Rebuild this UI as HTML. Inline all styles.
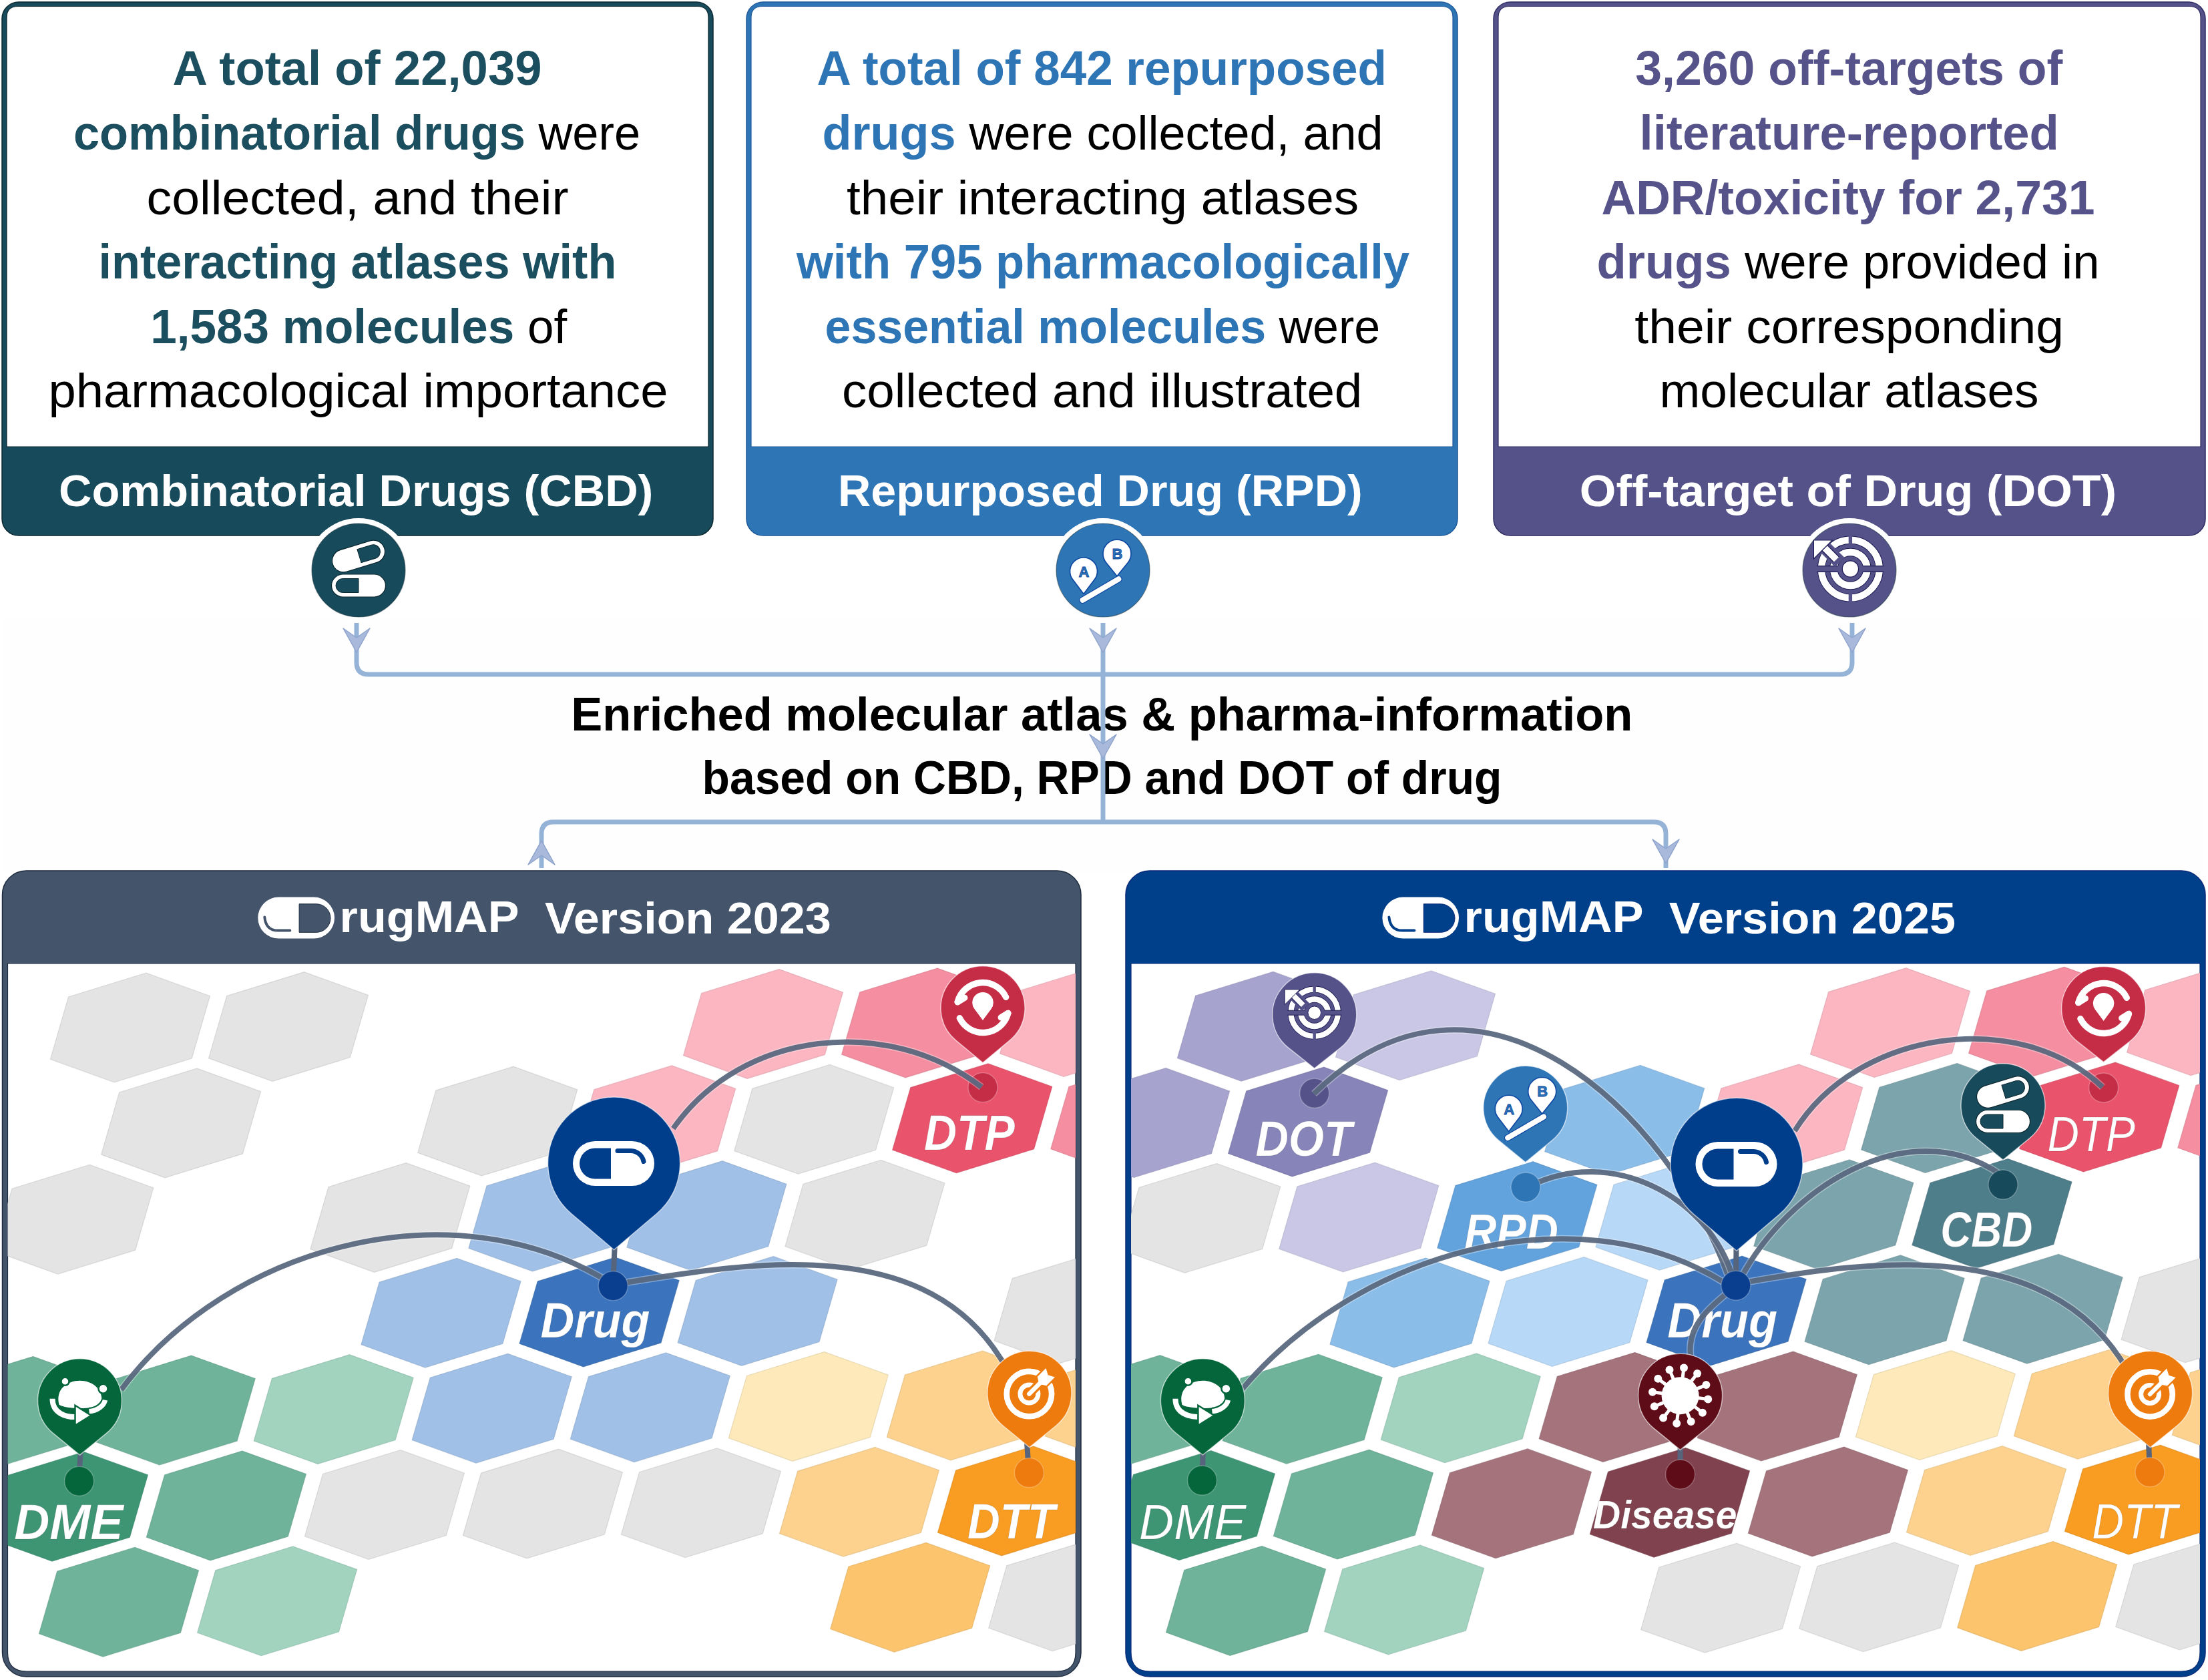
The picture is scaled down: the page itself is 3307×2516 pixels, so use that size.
<!DOCTYPE html><html><head><meta charset="utf-8"><style>html,body{margin:0;padding:0;background:#fff;overflow:hidden;}svg{display:block;}text{font-family:"Liberation Sans",sans-serif;white-space:pre;}</style></head><body>
<svg width="3307" height="2516" viewBox="0 0 3307 2516">
<rect width="3307" height="2516" fill="#ffffff"/>
<rect x="5" y="926" width="3295" height="380" fill="#fefefe"/>
<rect x="3" y="3" width="1065" height="799" rx="25" fill="#174a5b" stroke="#0b2730" stroke-width="1.5"/>
<path d="M10,669 L10,26 Q10,9.5 27,9.5 L1044,9.5 Q1061,9.5 1061,26 L1061,669 Z" fill="#fff" stroke="#0b2730" stroke-width="1.2"/>
<text x="533.2" y="758.0" font-size="67" text-anchor="middle" font-weight="bold" font-style="normal" fill="#fff" textLength="890.4" lengthAdjust="spacingAndGlyphs" >Combinatorial Drugs (CBD)</text>
<rect x="1118" y="3" width="1065" height="799" rx="25" fill="#2e75b6" stroke="#1f5a99" stroke-width="1.5"/>
<path d="M1125,669 L1125,26 Q1125,9.5 1142,9.5 L2159,9.5 Q2176,9.5 2176,26 L2176,669 Z" fill="#fff" stroke="#1f5a99" stroke-width="1.2"/>
<text x="1647.9" y="758.0" font-size="67" text-anchor="middle" font-weight="bold" font-style="normal" fill="#fff" textLength="785.8" lengthAdjust="spacingAndGlyphs" >Repurposed Drug (RPD)</text>
<rect x="2237" y="3" width="1066" height="799" rx="25" fill="#55528a" stroke="#2e2b63" stroke-width="1.5"/>
<path d="M2244,669 L2244,26 Q2244,9.5 2261,9.5 L3279,9.5 Q3296,9.5 3296,26 L3296,669 Z" fill="#fff" stroke="#2e2b63" stroke-width="1.2"/>
<text x="2768.0" y="758.0" font-size="67" text-anchor="middle" font-weight="bold" font-style="normal" fill="#fff" textLength="804.4" lengthAdjust="spacingAndGlyphs" >Off-target of Drug (DOT)</text>
<text x="535.0" y="127.4" font-size="72" text-anchor="middle" textLength="553.0" lengthAdjust="spacingAndGlyphs"><tspan fill="#1b4e5e" font-weight="bold">A total of 22,039</tspan></text>
<text x="534.5" y="224.0" font-size="72" text-anchor="middle" textLength="849.1" lengthAdjust="spacingAndGlyphs"><tspan fill="#1b4e5e" font-weight="bold">combinatorial drugs</tspan><tspan fill="#000" font-weight="normal"> were</tspan></text>
<text x="535.5" y="320.6" font-size="72" text-anchor="middle" textLength="632.0" lengthAdjust="spacingAndGlyphs"><tspan fill="#000" font-weight="normal">collected, and their</tspan></text>
<text x="535.4" y="417.2" font-size="72" text-anchor="middle" textLength="775.7" lengthAdjust="spacingAndGlyphs"><tspan fill="#1b4e5e" font-weight="bold">interacting atlases with</tspan></text>
<text x="537.2" y="513.8" font-size="72" text-anchor="middle" textLength="623.9" lengthAdjust="spacingAndGlyphs"><tspan fill="#1b4e5e" font-weight="bold">1,583 molecules</tspan><tspan fill="#000" font-weight="normal"> of</tspan></text>
<text x="536.5" y="610.4" font-size="72" text-anchor="middle" textLength="928.0" lengthAdjust="spacingAndGlyphs"><tspan fill="#000" font-weight="normal">pharmacological importance</tspan></text>
<text x="1650.2" y="127.4" font-size="72" text-anchor="middle" textLength="853.3" lengthAdjust="spacingAndGlyphs"><tspan fill="#2e75b6" font-weight="bold">A total of 842 repurposed</tspan></text>
<text x="1651.5" y="224.0" font-size="72" text-anchor="middle" textLength="840.0" lengthAdjust="spacingAndGlyphs"><tspan fill="#2e75b6" font-weight="bold">drugs</tspan><tspan fill="#000" font-weight="normal"> were collected, and</tspan></text>
<text x="1651.5" y="320.6" font-size="72" text-anchor="middle" textLength="767.1" lengthAdjust="spacingAndGlyphs"><tspan fill="#000" font-weight="normal">their interacting atlases</tspan></text>
<text x="1652.0" y="417.2" font-size="72" text-anchor="middle" textLength="918.2" lengthAdjust="spacingAndGlyphs"><tspan fill="#2e75b6" font-weight="bold">with 795 pharmacologically</tspan></text>
<text x="1651.3" y="513.8" font-size="72" text-anchor="middle" textLength="831.6" lengthAdjust="spacingAndGlyphs"><tspan fill="#2e75b6" font-weight="bold">essential molecules</tspan><tspan fill="#000" font-weight="normal"> were</tspan></text>
<text x="1650.7" y="610.4" font-size="72" text-anchor="middle" textLength="779.3" lengthAdjust="spacingAndGlyphs"><tspan fill="#000" font-weight="normal">collected and illustrated</tspan></text>
<text x="2769.3" y="127.4" font-size="72" text-anchor="middle" textLength="640.0" lengthAdjust="spacingAndGlyphs"><tspan fill="#56538b" font-weight="bold">3,260 off-targets of</tspan></text>
<text x="2769.7" y="224.0" font-size="72" text-anchor="middle" textLength="628.4" lengthAdjust="spacingAndGlyphs"><tspan fill="#56538b" font-weight="bold">literature-reported</tspan></text>
<text x="2768.0" y="320.6" font-size="72" text-anchor="middle" textLength="739.0" lengthAdjust="spacingAndGlyphs"><tspan fill="#56538b" font-weight="bold">ADR/toxicity for 2,731</tspan></text>
<text x="2768.0" y="417.2" font-size="72" text-anchor="middle" textLength="753.0" lengthAdjust="spacingAndGlyphs"><tspan fill="#56538b" font-weight="bold">drugs</tspan><tspan fill="#000" font-weight="normal"> were provided in</tspan></text>
<text x="2769.6" y="513.8" font-size="72" text-anchor="middle" textLength="642.6" lengthAdjust="spacingAndGlyphs"><tspan fill="#000" font-weight="normal">their corresponding</tspan></text>
<text x="2769.5" y="610.4" font-size="72" text-anchor="middle" textLength="568.0" lengthAdjust="spacingAndGlyphs"><tspan fill="#000" font-weight="normal">molecular atlases</tspan></text>
<circle cx="537" cy="854" r="78" fill="#fff"/>
<circle cx="537" cy="854" r="70" fill="#174a5b" stroke="#0b2730" stroke-opacity="0.5" stroke-width="1.2"/>
<g transform="translate(537,854) scale(1.0)"><g transform="translate(0,-21) rotate(-17)"><rect x="-40.5" y="-17" width="81" height="34" rx="17" fill="#fff" stroke="#0b2730" stroke-width="1.2"/><path d="M1,-10.5 L23,-10.5 A10.5,10.5 0 0 1 23,10.5 L1,10.5 Z" fill="#174a5b" stroke="#0b2730" stroke-width="1"/></g><g transform="translate(0,23)"><rect x="-40.5" y="-17" width="81" height="34" rx="17" fill="#fff" stroke="#0b2730" stroke-width="1.2"/><path d="M0,-10.5 L-23.5,-10.5 A10.5,10.5 0 0 0 -23.5,10.5 L0,10.5 Z" fill="#174a5b" stroke="#0b2730" stroke-width="1"/></g></g>
<circle cx="1652" cy="854" r="78" fill="#fff"/>
<circle cx="1652" cy="854" r="70" fill="#2e75b6" stroke="#0b2730" stroke-opacity="0.5" stroke-width="1.2"/>
<g transform="translate(1650,854) scale(1.0)"><path d="M-27.0,35.4 L-43.4,13.8 A20.5,20.5 0 1 1 -10.6,13.8 Z" fill="#fff" stroke="#0d47a1" stroke-width="1.6" stroke-linejoin="round"/><text x="-26.5" y="9.5" font-size="22" font-weight="bold" text-anchor="middle" fill="#2e75b6" stroke="#0d47a1" stroke-width="0.8">A</text><path d="M23.0,8.7 L6.6,-11.6 A21,21 0 1 1 39.4,-11.6 Z" fill="#fff" stroke="#0d47a1" stroke-width="1.6" stroke-linejoin="round"/><text x="23.5" y="-17" font-size="22" font-weight="bold" text-anchor="middle" fill="#2e75b6" stroke="#0d47a1" stroke-width="0.8">B</text><line x1="-28.5" y1="44.8" x2="25.4" y2="13.3" stroke="#0d47a1" stroke-width="10.5" stroke-linecap="round"/><line x1="-28.5" y1="44.8" x2="25.4" y2="13.3" stroke="#fff" stroke-width="8" stroke-linecap="round"/></g>
<circle cx="2770" cy="854" r="78" fill="#fff"/>
<circle cx="2770" cy="854" r="70" fill="#55528a" stroke="#0b2730" stroke-opacity="0.5" stroke-width="1.2"/>
<g transform="translate(2771.4,852) scale(1.0)"><circle r="25" fill="none" stroke="#1e1b55" stroke-width="12.6"/><circle r="25" fill="none" stroke="#fff" stroke-width="10.6"/><circle r="43.4" fill="none" stroke="#1e1b55" stroke-width="12.2"/><circle r="43.4" fill="none" stroke="#fff" stroke-width="10.2"/><rect x="-52" y="-4.3" width="104" height="8.6" fill="#55528a"/><path d="M-50,-4.3 L-18.7,-4.3 M18.7,-4.3 L50,-4.3 M-50,4.3 L-18.7,4.3 M18.7,4.3 L50,4.3" stroke="#1e1b55" stroke-width="1.2"/><rect x="-2.7" y="-52" width="5.4" height="16" fill="#55528a"/><rect x="-2.7" y="36" width="5.4" height="16" fill="#55528a"/><line x1="-16" y1="-10" x2="-47" y2="-41" stroke="#55528a" stroke-width="20"/><circle r="12.1" fill="#fff" stroke="#1e1b55" stroke-width="1.2"/><line x1="-21" y1="-14" x2="-44" y2="-37" stroke="#1e1b55" stroke-width="12.5"/><line x1="-21" y1="-14" x2="-44" y2="-37" stroke="#fff" stroke-width="10"/><path d="M-55,-43 L-27,-43 L-55,-15 Z" fill="#fff" stroke="#1e1b55" stroke-width="1.2" stroke-linejoin="miter"/></g>
<text x="1650.3" y="1093.6" font-size="71" text-anchor="middle" font-weight="bold" font-style="normal" fill="#000" textLength="1590.3" lengthAdjust="spacingAndGlyphs" >Enriched molecular atlas &amp; pharma-information</text>
<text x="1650.5" y="1189.0" font-size="71" text-anchor="middle" font-weight="bold" font-style="normal" fill="#000" textLength="1198.0" lengthAdjust="spacingAndGlyphs" >based on CBD, RPD and DOT of drug</text>
<path d="M534,933 L534,992 Q534,1010 552,1010 L2756,1010 Q2774,1010 2774,992 L2774,933" fill="none" stroke="#95b3d7" stroke-width="7"/>
<line x1="1652" y1="933" x2="1652" y2="1231" stroke="#95b3d7" stroke-width="7"/>
<path d="M811,1300 L811,1249 Q811,1231 829,1231 L2477,1231 Q2495,1231 2495,1249 L2495,1300" fill="none" stroke="#95b3d7" stroke-width="7"/>
<path d="M534,977 L514,941 L534,955 L554,941 Z" fill="#a9b9dc" stroke="#8ea4cc" stroke-width="1.5" stroke-linejoin="round"/>
<path d="M1652,977 L1632,941 L1652,955 L1672,941 Z" fill="#a9b9dc" stroke="#8ea4cc" stroke-width="1.5" stroke-linejoin="round"/>
<path d="M2774,977 L2754,941 L2774,955 L2794,941 Z" fill="#a9b9dc" stroke="#8ea4cc" stroke-width="1.5" stroke-linejoin="round"/>
<path d="M1652,1136 L1632,1100 L1652,1114 L1672,1100 Z" fill="#a9b9dc" stroke="#8ea4cc" stroke-width="1.5" stroke-linejoin="round"/>
<path d="M811,1259 L791,1295 L811,1281 L831,1295 Z" fill="#a9b9dc" stroke="#8ea4cc" stroke-width="1.5" stroke-linejoin="round"/>
<path d="M2495,1293 L2475,1257 L2495,1271 L2515,1257 Z" fill="#a9b9dc" stroke="#8ea4cc" stroke-width="1.5" stroke-linejoin="round"/>
<rect x="3.5" y="1304" width="1615.5" height="1207" rx="36" fill="#44546a" stroke="#1c2a3d" stroke-width="1.5"/>
<defs><clipPath id="clip0"><path d="M11.5,1443 L1611,1443 L1611,2475 Q1611,2503 1583,2503 L39.5,2503 Q11.5,2503 11.5,2475 Z"/></clipPath></defs>
<path d="M11.5,1443 L1611,1443 L1611,2475 Q1611,2503 1583,2503 L39.5,2503 Q11.5,2503 11.5,2475 Z" fill="#fff" stroke="#1c2a3d" stroke-width="1.2"/>
<rect x="386.3" y="1343.6" width="114.69999999999999" height="62.0" rx="31.0" fill="#fff"/>
<path d="M448.1,1353.8 L473.8,1353.8 A21.25,21.25 0 0 1 473.8,1396.3 L448.1,1396.3 Z" fill="#44546a" stroke="#1c2a3d" stroke-width="1"/>
<path d="M396.3,1373.6 Q398.3,1393.6 416.3,1393.6 L434.3,1393.6" fill="none" stroke="#44546a" stroke-width="4" stroke-linecap="round"/>
<text x="643.1" y="1396.0" font-size="66" text-anchor="middle" font-weight="bold" font-style="normal" fill="#fff" textLength="269.0" lengthAdjust="spacingAndGlyphs" >rugMAP</text>
<text x="1030.4" y="1397.5" font-size="66" text-anchor="middle" font-weight="bold" font-style="normal" fill="#fff" textLength="429.0" lengthAdjust="spacingAndGlyphs" >Version 2023</text>
<rect x="1686" y="1304" width="1617" height="1207" rx="36" fill="#003f8a" stroke="#0a2a78" stroke-width="1.5"/>
<defs><clipPath id="clip1"><path d="M1694,1443 L3295,1443 L3295,2475 Q3295,2503 3267,2503 L1722,2503 Q1694,2503 1694,2475 Z"/></clipPath></defs>
<path d="M1694,1443 L3295,1443 L3295,2475 Q3295,2503 3267,2503 L1722,2503 Q1694,2503 1694,2475 Z" fill="#fff" stroke="#0a2a78" stroke-width="1.2"/>
<rect x="2070.4" y="1343.6" width="114.59999999999991" height="62.0" rx="31.0" fill="#fff"/>
<path d="M2132.2000000000003,1353.8 L2157.8,1353.8 A21.25,21.25 0 0 1 2157.8,1396.3 L2132.2000000000003,1396.3 Z" fill="#003f8a" stroke="#0a2a78" stroke-width="1"/>
<path d="M2080.4,1373.6 Q2082.4,1393.6 2100.4,1393.6 L2118.4,1393.6" fill="none" stroke="#003f8a" stroke-width="4" stroke-linecap="round"/>
<text x="2327.1" y="1396.0" font-size="66" text-anchor="middle" font-weight="bold" font-style="normal" fill="#fff" textLength="269.0" lengthAdjust="spacingAndGlyphs" >rugMAP</text>
<text x="2714.4" y="1397.5" font-size="66" text-anchor="middle" font-weight="bold" font-style="normal" fill="#fff" textLength="429.1" lengthAdjust="spacingAndGlyphs" >Version 2025</text>
<g clip-path="url(#clip0)">
<path d="M218.8,1457.2 L314.4,1491.7 L287.2,1585.0 L171.1,1620.8 L75.5,1586.3 L102.6,1493.0 Z" fill="#e4e4e4" stroke="#cdcdcd" stroke-width="1.3" stroke-opacity="0.7"/>
<path d="M455.8,1455.8 L551.4,1490.3 L524.3,1583.6 L408.1,1619.4 L312.6,1584.9 L339.7,1491.6 Z" fill="#e4e4e4" stroke="#cdcdcd" stroke-width="1.3" stroke-opacity="0.7"/>
<path d="M1166.9,1451.6 L1262.4,1486.1 L1235.3,1579.4 L1119.2,1615.2 L1023.6,1580.7 L1050.7,1487.4 Z" fill="#fbb6c2" stroke="#e1a3ae" stroke-width="1.3" stroke-opacity="0.7"/>
<path d="M1403.9,1450.1 L1499.5,1484.6 L1472.4,1577.9 L1356.2,1613.7 L1260.7,1579.2 L1287.8,1485.9 Z" fill="#f58ea0" stroke="#dc7f90" stroke-width="1.3" stroke-opacity="0.7"/>
<path d="M1640.9,1448.7 L1736.5,1483.2 L1709.4,1576.5 L1593.2,1612.3 L1497.7,1577.8 L1524.8,1484.5 Z" fill="#fbb6c2" stroke="#e1a3ae" stroke-width="1.3" stroke-opacity="0.7"/>
<path d="M295.0,1600.1 L390.5,1634.6 L363.4,1727.9 L247.3,1763.7 L151.7,1729.2 L178.8,1635.9 Z" fill="#e4e4e4" stroke="#cdcdcd" stroke-width="1.3" stroke-opacity="0.7"/>
<path d="M769.0,1597.3 L864.6,1631.8 L837.5,1725.1 L721.3,1760.9 L625.8,1726.4 L652.9,1633.1 Z" fill="#e4e4e4" stroke="#cdcdcd" stroke-width="1.3" stroke-opacity="0.7"/>
<path d="M1006.1,1595.9 L1101.6,1630.4 L1074.5,1723.7 L958.4,1759.5 L862.8,1725.0 L889.9,1631.7 Z" fill="#fbb6c2" stroke="#e1a3ae" stroke-width="1.3" stroke-opacity="0.7"/>
<path d="M1243.1,1594.5 L1338.6,1629.0 L1311.5,1722.3 L1195.4,1758.1 L1099.8,1723.6 L1126.9,1630.3 Z" fill="#e4e4e4" stroke="#cdcdcd" stroke-width="1.3" stroke-opacity="0.7"/>
<path d="M1480.1,1593.0 L1575.6,1627.5 L1548.5,1720.8 L1432.4,1756.6 L1336.8,1722.1 L1363.9,1628.8 Z" fill="#e9536c" stroke="#d14a61" stroke-width="1.3" stroke-opacity="0.7"/>
<path d="M1717.1,1591.6 L1812.7,1626.1 L1785.6,1719.4 L1669.4,1755.2 L1573.9,1720.7 L1601.0,1627.4 Z" fill="#f58ea0" stroke="#dc7f90" stroke-width="1.3" stroke-opacity="0.7"/>
<path d="M134.2,1744.4 L229.7,1778.9 L202.6,1872.2 L86.5,1908.0 L-9.1,1873.5 L18.0,1780.2 Z" fill="#e4e4e4" stroke="#cdcdcd" stroke-width="1.3" stroke-opacity="0.7"/>
<path d="M608.2,1741.6 L703.8,1776.1 L676.6,1869.4 L560.5,1905.2 L465.0,1870.7 L492.1,1777.4 Z" fill="#e4e4e4" stroke="#cdcdcd" stroke-width="1.3" stroke-opacity="0.7"/>
<path d="M845.2,1740.2 L940.8,1774.7 L913.7,1868.0 L797.5,1903.8 L702.0,1869.3 L729.1,1776.0 Z" fill="#a0c0e7" stroke="#90accf" stroke-width="1.3" stroke-opacity="0.7"/>
<path d="M1082.2,1738.8 L1177.8,1773.3 L1150.7,1866.6 L1034.5,1902.4 L939.0,1867.9 L966.1,1774.6 Z" fill="#a0c0e7" stroke="#90accf" stroke-width="1.3" stroke-opacity="0.7"/>
<path d="M1319.3,1737.4 L1414.8,1771.9 L1387.7,1865.2 L1271.6,1901.0 L1176.0,1866.5 L1203.1,1773.2 Z" fill="#e4e4e4" stroke="#cdcdcd" stroke-width="1.3" stroke-opacity="0.7"/>
<path d="M684.4,1884.5 L779.9,1919.0 L752.8,2012.3 L636.7,2048.1 L541.1,2013.6 L568.2,1920.3 Z" fill="#a0c0e7" stroke="#90accf" stroke-width="1.3" stroke-opacity="0.7"/>
<path d="M921.4,1883.1 L1017.0,1917.6 L989.9,2010.9 L873.7,2046.7 L778.2,2012.2 L805.3,1918.9 Z" fill="#3b74bd" stroke="#3568aa" stroke-width="1.3" stroke-opacity="0.7"/>
<path d="M1158.4,1881.7 L1254.0,1916.2 L1226.9,2009.5 L1110.7,2045.3 L1015.2,2010.8 L1042.3,1917.5 Z" fill="#a0c0e7" stroke="#90accf" stroke-width="1.3" stroke-opacity="0.7"/>
<path d="M1632.5,1878.8 L1728.0,1913.3 L1700.9,2006.6 L1584.8,2042.4 L1489.2,2007.9 L1516.3,1914.6 Z" fill="#e4e4e4" stroke="#cdcdcd" stroke-width="1.3" stroke-opacity="0.7"/>
<path d="M49.5,2031.6 L145.1,2066.1 L118.0,2159.4 L1.8,2195.2 L-93.7,2160.7 L-66.6,2067.4 Z" fill="#6fb39b" stroke="#63a18b" stroke-width="1.3" stroke-opacity="0.7"/>
<path d="M286.5,2030.2 L382.1,2064.7 L355.0,2158.0 L238.8,2193.8 L143.3,2159.3 L170.4,2066.0 Z" fill="#6fb39b" stroke="#63a18b" stroke-width="1.3" stroke-opacity="0.7"/>
<path d="M523.6,2028.8 L619.1,2063.3 L592.0,2156.6 L475.9,2192.4 L380.3,2157.9 L407.4,2064.6 Z" fill="#a1d3bf" stroke="#90bdab" stroke-width="1.3" stroke-opacity="0.7"/>
<path d="M760.6,2027.4 L856.1,2061.9 L829.0,2155.2 L712.9,2191.0 L617.3,2156.5 L644.4,2063.2 Z" fill="#a0c0e7" stroke="#90accf" stroke-width="1.3" stroke-opacity="0.7"/>
<path d="M997.6,2026.0 L1093.2,2060.5 L1066.0,2153.8 L949.9,2189.6 L854.4,2155.1 L881.5,2061.8 Z" fill="#a0c0e7" stroke="#90accf" stroke-width="1.3" stroke-opacity="0.7"/>
<path d="M1234.6,2024.6 L1330.2,2059.1 L1303.1,2152.4 L1186.9,2188.2 L1091.4,2153.7 L1118.5,2060.4 Z" fill="#fde9ba" stroke="#e3d1a7" stroke-width="1.3" stroke-opacity="0.7"/>
<path d="M1471.6,2023.2 L1567.2,2057.7 L1540.1,2151.0 L1423.9,2186.8 L1328.4,2152.3 L1355.5,2059.0 Z" fill="#fdd28e" stroke="#e3bd7f" stroke-width="1.3" stroke-opacity="0.7"/>
<path d="M1708.7,2021.7 L1804.2,2056.2 L1777.1,2149.5 L1661.0,2185.3 L1565.4,2150.8 L1592.5,2057.5 Z" fill="#fdd28e" stroke="#e3bd7f" stroke-width="1.3" stroke-opacity="0.7"/>
<path d="M125.7,2174.5 L221.3,2209.0 L194.2,2302.3 L78.0,2338.1 L-17.5,2303.6 L9.6,2210.3 Z" fill="#3d9574" stroke="#368668" stroke-width="1.3" stroke-opacity="0.7"/>
<path d="M362.7,2173.1 L458.3,2207.6 L431.2,2300.9 L315.0,2336.7 L219.5,2302.2 L246.6,2208.9 Z" fill="#6fb39b" stroke="#63a18b" stroke-width="1.3" stroke-opacity="0.7"/>
<path d="M599.8,2171.7 L695.3,2206.2 L668.2,2299.5 L552.0,2335.3 L456.5,2300.8 L483.6,2207.5 Z" fill="#e4e4e4" stroke="#cdcdcd" stroke-width="1.3" stroke-opacity="0.7"/>
<path d="M836.8,2170.3 L932.3,2204.8 L905.2,2298.1 L789.1,2333.9 L693.5,2299.4 L720.6,2206.1 Z" fill="#e4e4e4" stroke="#cdcdcd" stroke-width="1.3" stroke-opacity="0.7"/>
<path d="M1073.8,2168.9 L1169.3,2203.4 L1142.2,2296.7 L1026.1,2332.5 L930.5,2298.0 L957.6,2204.7 Z" fill="#e4e4e4" stroke="#cdcdcd" stroke-width="1.3" stroke-opacity="0.7"/>
<path d="M1310.8,2167.5 L1406.4,2202.0 L1379.3,2295.3 L1263.1,2331.1 L1167.6,2296.6 L1194.7,2203.3 Z" fill="#fdd28e" stroke="#e3bd7f" stroke-width="1.3" stroke-opacity="0.7"/>
<path d="M1547.8,2166.1 L1643.4,2200.6 L1616.3,2293.9 L1500.1,2329.7 L1404.6,2295.2 L1431.7,2201.9 Z" fill="#f99c22" stroke="#e08c1e" stroke-width="1.3" stroke-opacity="0.7"/>
<path d="M201.9,2317.4 L297.4,2351.9 L270.3,2445.2 L154.2,2481.0 L58.6,2446.5 L85.7,2353.2 Z" fill="#6fb39b" stroke="#63a18b" stroke-width="1.3" stroke-opacity="0.7"/>
<path d="M438.9,2316.0 L534.5,2350.5 L507.4,2443.8 L391.2,2479.6 L295.7,2445.1 L322.8,2351.8 Z" fill="#a1d3bf" stroke="#90bdab" stroke-width="1.3" stroke-opacity="0.7"/>
<path d="M1387.0,2310.4 L1482.6,2344.9 L1455.5,2438.2 L1339.3,2474.0 L1243.8,2439.5 L1270.9,2346.2 Z" fill="#fcc46c" stroke="#e2b061" stroke-width="1.3" stroke-opacity="0.7"/>
<path d="M1624.0,2309.0 L1719.6,2343.5 L1692.5,2436.8 L1576.3,2472.6 L1480.8,2438.1 L1507.9,2344.8 Z" fill="#e4e4e4" stroke="#cdcdcd" stroke-width="1.3" stroke-opacity="0.7"/>
<text x="891.5" y="2003.4" font-size="74" text-anchor="middle" font-weight="bold" font-style="italic" fill="#fff" textLength="164.1" lengthAdjust="spacingAndGlyphs" stroke="#00000022" stroke-width="1">Drug</text>
<text x="1451.8" y="1722.0" font-size="74" text-anchor="middle" font-weight="bold" font-style="italic" fill="#fff" textLength="135.7" lengthAdjust="spacingAndGlyphs" stroke="#00000022" stroke-width="1">DTP</text>
<text x="102.9" y="2304.9" font-size="74" text-anchor="middle" font-weight="bold" font-style="italic" fill="#fff" textLength="163.2" lengthAdjust="spacingAndGlyphs" stroke="#00000022" stroke-width="1">DME</text>
<text x="1514.6" y="2303.7" font-size="74" text-anchor="middle" font-weight="bold" font-style="italic" fill="#fff" textLength="131.2" lengthAdjust="spacingAndGlyphs" stroke="#00000022" stroke-width="1">DTT</text>
<circle cx="1472" cy="1628.6" r="22" fill="#c52d47" stroke="#ffffff" stroke-opacity="0.25" stroke-width="1.5"/>
<path d="M181.5,2081.3 C342.2,1865.3 679.0,1775.0 912.0,1920.0" fill="none" stroke="#ffffff" stroke-opacity="0.35" stroke-width="11" stroke-linecap="butt"/><path d="M181.5,2081.3 C342.2,1865.3 679.0,1775.0 912.0,1920.0" fill="none" stroke="#56657c" stroke-opacity="0.92" stroke-width="8" stroke-linecap="butt"/>
<path d="M919.6,1923.6 C1112.4,1892.6 1388.0,1840.9 1505.0,2045.0" fill="none" stroke="#ffffff" stroke-opacity="0.35" stroke-width="11" stroke-linecap="butt"/><path d="M919.6,1923.6 C1112.4,1892.6 1388.0,1840.9 1505.0,2045.0" fill="none" stroke="#56657c" stroke-opacity="0.92" stroke-width="8" stroke-linecap="butt"/>
<path d="M1008.3,1690.1 C1111.7,1542.2 1330.5,1519.9 1470.0,1628.0" fill="none" stroke="#ffffff" stroke-opacity="0.35" stroke-width="11" stroke-linecap="butt"/><path d="M1008.3,1690.1 C1111.7,1542.2 1330.5,1519.9 1470.0,1628.0" fill="none" stroke="#56657c" stroke-opacity="0.92" stroke-width="8" stroke-linecap="butt"/>
<path d="M921,1860 L918,1926" stroke="#56657c" stroke-width="8"/>
<path d="M121,2170 L118,2218" stroke="#56657c" stroke-width="8"/>
<path d="M1538,2160 L1541,2205" stroke="#56657c" stroke-width="8"/>
<circle cx="918.2" cy="1925.7" r="22" fill="#0a3f8f" stroke="#ffffff" stroke-opacity="0.25" stroke-width="1.5"/>
<circle cx="118.6" cy="2218.2" r="22" fill="#05663c" stroke="#ffffff" stroke-opacity="0.25" stroke-width="1.5"/>
<circle cx="1541.4" cy="2205.6" r="22" fill="#ee7b0d" stroke="#ffffff" stroke-opacity="0.25" stroke-width="1.5"/>
<path d="M919.6,1871.8 L855.6,1817.5 A99,99 0 1 1 983.6,1817.5 Z" fill="#003d8b" stroke="#ffffff" stroke-opacity="0.6" stroke-width="1.5" stroke-linejoin="round"/><g transform="translate(919,1742.5) scale(1.0)"><rect x="-61" y="-33.5" width="122" height="67" rx="33.5" fill="#fff"/><path d="M-4,-23 L-28,-23 A23,23 0 0 0 -28,23 L-4,23 Z" fill="#003d8b"/><path d="M6,-19 L26,-19 A20,20 0 0 1 45,-3" fill="none" stroke="#003d8b" stroke-width="7" stroke-linecap="round"/></g>
<path d="M1472,1591.5 L1431.7,1558.1 A63,63 0 1 1 1512.3,1558.1 Z" fill="#c52d47" stroke="#ffffff" stroke-opacity="0.6" stroke-width="1.5" stroke-linejoin="round"/><g transform="translate(1472,1509) scale(1.05)" fill="none" stroke="#fff" stroke-linecap="round"><path d="M-36,-8 A37,37 0 0 1 33,-15" stroke-width="9"/><path d="M36,8 A37,37 0 0 1 -33,15" stroke-width="9"/><path d="M-36,-8 L-26,-14" stroke-width="9"/><path d="M36,8 L26,14" stroke-width="9"/><path d="M0,18 L-12,2 A15,15 0 1 1 12,2 Z" fill="#fff" stroke="none"/></g>
<path d="M119.5,2179.1 L79.7,2146.6 A63,63 0 1 1 159.3,2146.6 Z" fill="#05663c" stroke="#ffffff" stroke-opacity="0.6" stroke-width="1.5" stroke-linejoin="round"/><g transform="translate(119.5,2097.8) scale(1.0)"><path d="M-31,6 C-37,-17 -19,-30 0,-30 C19,-30 37,-17 32,6 C20,13 -20,13 -31,6 Z" fill="#fff"/><circle cx="-22" cy="-29" r="6" fill="#fff" stroke="#05663c" stroke-width="2.5"/><circle cx="35" cy="-18" r="7" fill="#fff" stroke="#05663c" stroke-width="2.5"/><path d="M-41,-3 C-41,18 -22,26 0,24" fill="none" stroke="#05663c" stroke-width="13"/><path d="M-41,-3 C-41,18 -22,26 0,24" fill="none" stroke="#fff" stroke-width="8"/><path d="M14,16 C26,15 36,8 38,-1" fill="none" stroke="#05663c" stroke-width="12"/><path d="M14,16 C26,15 36,8 38,-1" fill="none" stroke="#fff" stroke-width="7.5"/><polygon points="-7,7 17,22 -7,37" fill="#fff" stroke="#05663c" stroke-width="2.5" stroke-linejoin="miter"/></g>
<path d="M1541.9,2167.6 L1502.0,2135.0 A63,63 0 1 1 1581.8,2135.0 Z" fill="#ee7b0d" stroke="#ffffff" stroke-opacity="0.6" stroke-width="1.5" stroke-linejoin="round"/><g transform="translate(1541.4,2087.6) scale(1.0)"><circle r="33.7" fill="none" stroke="#fff" stroke-width="8.6"/><circle r="13.5" fill="none" stroke="#fff" stroke-width="7"/><line x1="0" y1="0" x2="22" y2="-22" stroke="#ee7b0d" stroke-width="13"/><polygon points="14.8,-14.8 12.4,-25.8 25.1,-38.5 28.3,-28.3 38.5,-25.1 25.8,-12.4" fill="#ee7b0d" stroke="#ee7b0d" stroke-width="5" stroke-linejoin="round"/><line x1="0" y1="0" x2="20" y2="-20" stroke="#fff" stroke-width="6.5" stroke-linecap="round"/><polygon points="14.8,-14.8 12.4,-25.8 25.1,-38.5 28.3,-28.3 38.5,-25.1 25.8,-12.4" fill="#fff"/></g>
</g>
<g clip-path="url(#clip1)">
<path d="M1906.8,1455.4 L2002.4,1489.9 L1975.2,1583.2 L1859.1,1619.0 L1763.5,1584.5 L1790.7,1491.2 Z" fill="#a6a4cf" stroke="#9593ba" stroke-width="1.3" stroke-opacity="0.7"/>
<path d="M2143.8,1454.0 L2239.4,1488.5 L2212.3,1581.8 L2096.1,1617.6 L2000.6,1583.1 L2027.7,1489.8 Z" fill="#c9c7e5" stroke="#b4b3ce" stroke-width="1.3" stroke-opacity="0.7"/>
<path d="M2854.9,1449.8 L2950.4,1484.3 L2923.3,1577.6 L2807.2,1613.4 L2711.6,1578.9 L2738.7,1485.6 Z" fill="#fbb6c2" stroke="#e1a3ae" stroke-width="1.3" stroke-opacity="0.7"/>
<path d="M3091.9,1448.3 L3187.5,1482.8 L3160.4,1576.1 L3044.2,1611.9 L2948.7,1577.4 L2975.8,1484.1 Z" fill="#f58ea0" stroke="#dc7f90" stroke-width="1.3" stroke-opacity="0.7"/>
<path d="M3328.9,1446.9 L3424.5,1481.4 L3397.4,1574.7 L3281.2,1610.5 L3185.7,1576.0 L3212.8,1482.7 Z" fill="#fbb6c2" stroke="#e1a3ae" stroke-width="1.3" stroke-opacity="0.7"/>
<path d="M1746.0,1599.7 L1841.5,1634.2 L1814.4,1727.5 L1698.3,1763.3 L1602.7,1728.8 L1629.8,1635.5 Z" fill="#a6a4cf" stroke="#9593ba" stroke-width="1.3" stroke-opacity="0.7"/>
<path d="M1983.0,1598.3 L2078.5,1632.8 L2051.4,1726.1 L1935.3,1761.9 L1839.7,1727.4 L1866.8,1634.1 Z" fill="#8784b9" stroke="#7976a6" stroke-width="1.3" stroke-opacity="0.7"/>
<path d="M2457.0,1595.5 L2552.6,1630.0 L2525.5,1723.3 L2409.3,1759.1 L2313.8,1724.6 L2340.9,1631.3 Z" fill="#8bbde9" stroke="#7daad1" stroke-width="1.3" stroke-opacity="0.7"/>
<path d="M2694.0,1594.1 L2789.6,1628.6 L2762.5,1721.9 L2646.3,1757.7 L2550.8,1723.2 L2577.9,1629.9 Z" fill="#fbb6c2" stroke="#e1a3ae" stroke-width="1.3" stroke-opacity="0.7"/>
<path d="M2931.1,1592.7 L3026.6,1627.2 L2999.5,1720.5 L2883.4,1756.3 L2787.8,1721.8 L2814.9,1628.5 Z" fill="#7ca4ac" stroke="#6f939a" stroke-width="1.3" stroke-opacity="0.7"/>
<path d="M3168.1,1591.2 L3263.6,1625.7 L3236.5,1719.0 L3120.4,1754.8 L3024.8,1720.3 L3051.9,1627.0 Z" fill="#e9536c" stroke="#d14a61" stroke-width="1.3" stroke-opacity="0.7"/>
<path d="M3405.1,1589.8 L3500.7,1624.3 L3473.6,1717.6 L3357.4,1753.4 L3261.9,1718.9 L3289.0,1625.6 Z" fill="#f58ea0" stroke="#dc7f90" stroke-width="1.3" stroke-opacity="0.7"/>
<path d="M1822.2,1742.6 L1917.7,1777.1 L1890.6,1870.4 L1774.5,1906.2 L1678.9,1871.7 L1706.0,1778.4 Z" fill="#e4e4e4" stroke="#cdcdcd" stroke-width="1.3" stroke-opacity="0.7"/>
<path d="M2059.2,1741.2 L2154.7,1775.7 L2127.6,1869.0 L2011.5,1904.8 L1915.9,1870.3 L1943.0,1777.0 Z" fill="#c9c7e5" stroke="#b4b3ce" stroke-width="1.3" stroke-opacity="0.7"/>
<path d="M2296.2,1739.8 L2391.8,1774.3 L2364.7,1867.6 L2248.5,1903.4 L2152.9,1868.9 L2180.0,1775.6 Z" fill="#62a3de" stroke="#5892c7" stroke-width="1.3" stroke-opacity="0.7"/>
<path d="M2533.2,1738.4 L2628.8,1772.9 L2601.7,1866.2 L2485.5,1902.0 L2390.0,1867.5 L2417.1,1774.2 Z" fill="#b7d8f6" stroke="#a4c2dd" stroke-width="1.3" stroke-opacity="0.7"/>
<path d="M2770.2,1737.0 L2865.8,1771.5 L2838.7,1864.8 L2722.5,1900.6 L2627.0,1866.1 L2654.1,1772.8 Z" fill="#7ca4ac" stroke="#6f939a" stroke-width="1.3" stroke-opacity="0.7"/>
<path d="M3007.3,1735.6 L3102.8,1770.1 L3075.7,1863.4 L2959.6,1899.2 L2864.0,1864.7 L2891.1,1771.4 Z" fill="#4f7e8b" stroke="#47717d" stroke-width="1.3" stroke-opacity="0.7"/>
<path d="M2135.4,1884.1 L2230.9,1918.6 L2203.8,2011.9 L2087.7,2047.7 L1992.1,2013.2 L2019.2,1919.9 Z" fill="#8bbde9" stroke="#7daad1" stroke-width="1.3" stroke-opacity="0.7"/>
<path d="M2372.4,1882.7 L2467.9,1917.2 L2440.8,2010.5 L2324.7,2046.3 L2229.1,2011.8 L2256.2,1918.5 Z" fill="#b7d8f6" stroke="#a4c2dd" stroke-width="1.3" stroke-opacity="0.7"/>
<path d="M2609.4,1881.3 L2705.0,1915.8 L2677.9,2009.1 L2561.7,2044.9 L2466.2,2010.4 L2493.3,1917.1 Z" fill="#3b74bd" stroke="#3568aa" stroke-width="1.3" stroke-opacity="0.7"/>
<path d="M2846.4,1879.9 L2942.0,1914.4 L2914.9,2007.7 L2798.7,2043.5 L2703.2,2009.0 L2730.3,1915.7 Z" fill="#7ca4ac" stroke="#6f939a" stroke-width="1.3" stroke-opacity="0.7"/>
<path d="M3083.4,1878.5 L3179.0,1913.0 L3151.9,2006.3 L3035.8,2042.1 L2940.2,2007.6 L2967.3,1914.3 Z" fill="#7ca4ac" stroke="#6f939a" stroke-width="1.3" stroke-opacity="0.7"/>
<path d="M3320.5,1877.0 L3416.0,1911.5 L3388.9,2004.8 L3272.8,2040.6 L3177.2,2006.1 L3204.3,1912.8 Z" fill="#e4e4e4" stroke="#cdcdcd" stroke-width="1.3" stroke-opacity="0.7"/>
<path d="M1737.5,2029.8 L1833.1,2064.3 L1806.0,2157.6 L1689.8,2193.4 L1594.3,2158.9 L1621.4,2065.6 Z" fill="#6fb39b" stroke="#63a18b" stroke-width="1.3" stroke-opacity="0.7"/>
<path d="M1974.5,2028.4 L2070.1,2062.9 L2043.0,2156.2 L1926.8,2192.0 L1831.3,2157.5 L1858.4,2064.2 Z" fill="#6fb39b" stroke="#63a18b" stroke-width="1.3" stroke-opacity="0.7"/>
<path d="M2211.6,2027.0 L2307.1,2061.5 L2280.0,2154.8 L2163.9,2190.6 L2068.3,2156.1 L2095.4,2062.8 Z" fill="#a1d3bf" stroke="#90bdab" stroke-width="1.3" stroke-opacity="0.7"/>
<path d="M2448.6,2025.6 L2544.1,2060.1 L2517.0,2153.4 L2400.9,2189.2 L2305.3,2154.7 L2332.4,2061.4 Z" fill="#a4737c" stroke="#93676f" stroke-width="1.3" stroke-opacity="0.7"/>
<path d="M2685.6,2024.2 L2781.2,2058.7 L2754.1,2152.0 L2637.9,2187.8 L2542.3,2153.3 L2569.4,2060.0 Z" fill="#a4737c" stroke="#93676f" stroke-width="1.3" stroke-opacity="0.7"/>
<path d="M2922.6,2022.8 L3018.2,2057.3 L2991.1,2150.6 L2874.9,2186.4 L2779.4,2151.9 L2806.5,2058.6 Z" fill="#fde9ba" stroke="#e3d1a7" stroke-width="1.3" stroke-opacity="0.7"/>
<path d="M3159.6,2021.4 L3255.2,2055.9 L3228.1,2149.2 L3111.9,2185.0 L3016.4,2150.5 L3043.5,2057.2 Z" fill="#fdd28e" stroke="#e3bd7f" stroke-width="1.3" stroke-opacity="0.7"/>
<path d="M3396.7,2019.9 L3492.2,2054.4 L3465.1,2147.7 L3349.0,2183.5 L3253.4,2149.0 L3280.5,2055.7 Z" fill="#fdd28e" stroke="#e3bd7f" stroke-width="1.3" stroke-opacity="0.7"/>
<path d="M1813.7,2172.7 L1909.3,2207.2 L1882.2,2300.5 L1766.0,2336.3 L1670.5,2301.8 L1697.6,2208.5 Z" fill="#3d9574" stroke="#368668" stroke-width="1.3" stroke-opacity="0.7"/>
<path d="M2050.7,2171.3 L2146.3,2205.8 L2119.2,2299.1 L2003.0,2334.9 L1907.5,2300.4 L1934.6,2207.1 Z" fill="#6fb39b" stroke="#63a18b" stroke-width="1.3" stroke-opacity="0.7"/>
<path d="M2287.8,2169.9 L2383.3,2204.4 L2356.2,2297.7 L2240.1,2333.5 L2144.5,2299.0 L2171.6,2205.7 Z" fill="#a4737c" stroke="#93676f" stroke-width="1.3" stroke-opacity="0.7"/>
<path d="M2524.8,2168.5 L2620.3,2203.0 L2593.2,2296.3 L2477.1,2332.1 L2381.5,2297.6 L2408.6,2204.3 Z" fill="#80424f" stroke="#733b47" stroke-width="1.3" stroke-opacity="0.7"/>
<path d="M2761.8,2167.1 L2857.3,2201.6 L2830.2,2294.9 L2714.1,2330.7 L2618.5,2296.2 L2645.6,2202.9 Z" fill="#a4737c" stroke="#93676f" stroke-width="1.3" stroke-opacity="0.7"/>
<path d="M2998.8,2165.7 L3094.4,2200.2 L3067.3,2293.5 L2951.1,2329.3 L2855.6,2294.8 L2882.7,2201.5 Z" fill="#fdd28e" stroke="#e3bd7f" stroke-width="1.3" stroke-opacity="0.7"/>
<path d="M3235.8,2164.3 L3331.4,2198.8 L3304.3,2292.1 L3188.1,2327.9 L3092.6,2293.4 L3119.7,2200.1 Z" fill="#f99c22" stroke="#e08c1e" stroke-width="1.3" stroke-opacity="0.7"/>
<path d="M1889.9,2315.6 L1985.5,2350.1 L1958.3,2443.4 L1842.2,2479.2 L1746.6,2444.7 L1773.8,2351.4 Z" fill="#6fb39b" stroke="#63a18b" stroke-width="1.3" stroke-opacity="0.7"/>
<path d="M2126.9,2314.2 L2222.5,2348.7 L2195.4,2442.0 L2079.2,2477.8 L1983.7,2443.3 L2010.8,2350.0 Z" fill="#a1d3bf" stroke="#90bdab" stroke-width="1.3" stroke-opacity="0.7"/>
<path d="M2601.0,2311.4 L2696.5,2345.9 L2669.4,2439.2 L2553.3,2475.0 L2457.7,2440.5 L2484.8,2347.2 Z" fill="#e4e4e4" stroke="#cdcdcd" stroke-width="1.3" stroke-opacity="0.7"/>
<path d="M2838.0,2310.0 L2933.5,2344.5 L2906.4,2437.8 L2790.3,2473.6 L2694.7,2439.1 L2721.8,2345.8 Z" fill="#e4e4e4" stroke="#cdcdcd" stroke-width="1.3" stroke-opacity="0.7"/>
<path d="M3075.0,2308.6 L3170.6,2343.1 L3143.5,2436.4 L3027.3,2472.2 L2931.8,2437.7 L2958.8,2344.4 Z" fill="#fcc46c" stroke="#e2b061" stroke-width="1.3" stroke-opacity="0.7"/>
<path d="M3312.0,2307.2 L3407.6,2341.7 L3380.5,2435.0 L3264.3,2470.8 L3168.8,2436.3 L3195.9,2343.0 Z" fill="#e4e4e4" stroke="#cdcdcd" stroke-width="1.3" stroke-opacity="0.7"/>
<text x="2579.7" y="2002.6" font-size="74" text-anchor="middle" font-weight="bold" font-style="italic" fill="#fff" textLength="164.7" lengthAdjust="spacingAndGlyphs" stroke="#00000022" stroke-width="1">Drug</text>
<text x="3132.1" y="1723.5" font-size="74" text-anchor="middle" font-weight="normal" font-style="italic" fill="#fff" textLength="131.4" lengthAdjust="spacingAndGlyphs" stroke="#00000022" stroke-width="1">DTP</text>
<text x="1786.2" y="2304.8" font-size="74" text-anchor="middle" font-weight="normal" font-style="italic" fill="#fff" textLength="160.2" lengthAdjust="spacingAndGlyphs" stroke="#00000022" stroke-width="1">DME</text>
<text x="3197.4" y="2303.8" font-size="74" text-anchor="middle" font-weight="normal" font-style="italic" fill="#fff" textLength="128.5" lengthAdjust="spacingAndGlyphs" stroke="#00000022" stroke-width="1">DTT</text>
<text x="1952.6" y="1731.0" font-size="74" text-anchor="middle" font-weight="bold" font-style="italic" fill="#fff" textLength="144.4" lengthAdjust="spacingAndGlyphs" stroke="#00000022" stroke-width="1">DOT</text>
<text x="2263.6" y="1870.2" font-size="74" text-anchor="middle" font-weight="bold" font-style="italic" fill="#fff" textLength="140.9" lengthAdjust="spacingAndGlyphs" stroke="#00000022" stroke-width="1">RPD</text>
<text x="2975.3" y="1867.3" font-size="74" text-anchor="middle" font-weight="bold" font-style="italic" fill="#fff" textLength="138.2" lengthAdjust="spacingAndGlyphs" stroke="#00000022" stroke-width="1">CBD</text>
<text x="2493.8" y="2289.3" font-size="59" text-anchor="middle" font-weight="bold" font-style="italic" fill="#fff" textLength="215.6" lengthAdjust="spacingAndGlyphs" stroke="#00000022" stroke-width="1">Disease</text>
<circle cx="3150.6" cy="1629" r="22" fill="#c52d47" stroke="#ffffff" stroke-opacity="0.25" stroke-width="1.5"/>
<circle cx="1968.7" cy="1637.3" r="22" fill="#55528a" stroke="#ffffff" stroke-opacity="0.25" stroke-width="1.5"/>
<path d="M1860.0,2081.0 C2026.6,1882.2 2352.1,1778.8 2584.1,1921.7" fill="none" stroke="#ffffff" stroke-opacity="0.35" stroke-width="11" stroke-linecap="butt"/><path d="M1860.0,2081.0 C2026.6,1882.2 2352.1,1778.8 2584.1,1921.7" fill="none" stroke="#56657c" stroke-opacity="0.92" stroke-width="8" stroke-linecap="butt"/>
<path d="M2619.3,1919.6 C2805.6,1886.3 3067.0,1854.0 3182.0,2045.0" fill="none" stroke="#ffffff" stroke-opacity="0.35" stroke-width="11" stroke-linecap="butt"/><path d="M2619.3,1919.6 C2805.6,1886.3 3067.0,1854.0 3182.0,2045.0" fill="none" stroke="#56657c" stroke-opacity="0.92" stroke-width="8" stroke-linecap="butt"/>
<path d="M2688.0,1693.7 C2779.5,1544.7 3021.3,1506.6 3149.0,1628.0" fill="none" stroke="#ffffff" stroke-opacity="0.35" stroke-width="11" stroke-linecap="butt"/><path d="M2688.0,1693.7 C2779.5,1544.7 3021.3,1506.6 3149.0,1628.0" fill="none" stroke="#56657c" stroke-opacity="0.92" stroke-width="8" stroke-linecap="butt"/>
<path d="M1968.0,1638.0 C2216.8,1393.7 2500.0,1665.4 2590.0,1915.0" fill="none" stroke="#ffffff" stroke-opacity="0.35" stroke-width="11" stroke-linecap="butt"/><path d="M1968.0,1638.0 C2216.8,1393.7 2500.0,1665.4 2590.0,1915.0" fill="none" stroke="#56657c" stroke-opacity="0.92" stroke-width="8" stroke-linecap="butt"/>
<path d="M2292.0,1776.0 C2411.7,1716.1 2559.8,1790.4 2596.0,1915.0" fill="none" stroke="#ffffff" stroke-opacity="0.35" stroke-width="11" stroke-linecap="butt"/><path d="M2292.0,1776.0 C2411.7,1716.1 2559.8,1790.4 2596.0,1915.0" fill="none" stroke="#56657c" stroke-opacity="0.92" stroke-width="8" stroke-linecap="butt"/>
<path d="M2995.0,1758.0 C2854.5,1662.6 2674.5,1784.8 2607.0,1915.0" fill="none" stroke="#ffffff" stroke-opacity="0.35" stroke-width="11" stroke-linecap="butt"/><path d="M2995.0,1758.0 C2854.5,1662.6 2674.5,1784.8 2607.0,1915.0" fill="none" stroke="#56657c" stroke-opacity="0.92" stroke-width="8" stroke-linecap="butt"/>
<path d="M2600.0,1925.0 C2568.5,1953.4 2526.6,1979.2 2532.0,2030.0" fill="none" stroke="#ffffff" stroke-opacity="0.35" stroke-width="11" stroke-linecap="butt"/><path d="M2600.0,1925.0 C2568.5,1953.4 2526.6,1979.2 2532.0,2030.0" fill="none" stroke="#56657c" stroke-opacity="0.92" stroke-width="8" stroke-linecap="butt"/>
<path d="M2600.5,1860 L2600,1925" stroke="#56657c" stroke-width="8"/>
<path d="M1802,2170 L1800.5,2217" stroke="#56657c" stroke-width="8"/>
<path d="M3218,2160 L3220,2205" stroke="#56657c" stroke-width="8"/>
<path d="M2516.6,2165 L2516.6,2208" stroke="#56657c" stroke-width="8"/>
<circle cx="2599.9" cy="1925.2" r="22" fill="#0a3f8f" stroke="#ffffff" stroke-opacity="0.25" stroke-width="1.5"/>
<circle cx="1800.5" cy="2217.1" r="22" fill="#05663c" stroke="#ffffff" stroke-opacity="0.25" stroke-width="1.5"/>
<circle cx="3220" cy="2204.7" r="22" fill="#ee7b0d" stroke="#ffffff" stroke-opacity="0.25" stroke-width="1.5"/>
<circle cx="2285" cy="1777.9" r="22" fill="#2e75b6" stroke="#ffffff" stroke-opacity="0.25" stroke-width="1.5"/>
<circle cx="3000" cy="1774.1" r="22" fill="#174a5b" stroke="#ffffff" stroke-opacity="0.25" stroke-width="1.5"/>
<circle cx="2516.6" cy="2208" r="22" fill="#5e0d18" stroke="#ffffff" stroke-opacity="0.25" stroke-width="1.5"/>
<path d="M2601,1873.2 L2536.8,1818.6 A99,99 0 1 1 2665.2,1818.6 Z" fill="#003d8b" stroke="#ffffff" stroke-opacity="0.6" stroke-width="1.5" stroke-linejoin="round"/><g transform="translate(2600.5,1743.5) scale(1.0)"><rect x="-61" y="-33.5" width="122" height="67" rx="33.5" fill="#fff"/><path d="M-4,-23 L-28,-23 A23,23 0 0 0 -28,23 L-4,23 Z" fill="#003d8b"/><path d="M6,-19 L26,-19 A20,20 0 0 1 45,-3" fill="none" stroke="#003d8b" stroke-width="7" stroke-linecap="round"/></g>
<path d="M3150.6,1590.6 L3111.6,1559.9 A63,63 0 1 1 3189.6,1559.9 Z" fill="#c52d47" stroke="#ffffff" stroke-opacity="0.6" stroke-width="1.5" stroke-linejoin="round"/><g transform="translate(3150.6,1510) scale(1.05)" fill="none" stroke="#fff" stroke-linecap="round"><path d="M-36,-8 A37,37 0 0 1 33,-15" stroke-width="9"/><path d="M36,8 A37,37 0 0 1 -33,15" stroke-width="9"/><path d="M-36,-8 L-26,-14" stroke-width="9"/><path d="M36,8 L26,14" stroke-width="9"/><path d="M0,18 L-12,2 A15,15 0 1 1 12,2 Z" fill="#fff" stroke="none"/></g>
<path d="M1801.4,2179 L1761.6,2146.5 A63,63 0 1 1 1841.2,2146.5 Z" fill="#05663c" stroke="#ffffff" stroke-opacity="0.6" stroke-width="1.5" stroke-linejoin="round"/><g transform="translate(1801.4,2097.7) scale(1.0)"><path d="M-31,6 C-37,-17 -19,-30 0,-30 C19,-30 37,-17 32,6 C20,13 -20,13 -31,6 Z" fill="#fff"/><circle cx="-22" cy="-29" r="6" fill="#fff" stroke="#05663c" stroke-width="2.5"/><circle cx="35" cy="-18" r="7" fill="#fff" stroke="#05663c" stroke-width="2.5"/><path d="M-41,-3 C-41,18 -22,26 0,24" fill="none" stroke="#05663c" stroke-width="13"/><path d="M-41,-3 C-41,18 -22,26 0,24" fill="none" stroke="#fff" stroke-width="8"/><path d="M14,16 C26,15 36,8 38,-1" fill="none" stroke="#05663c" stroke-width="12"/><path d="M14,16 C26,15 36,8 38,-1" fill="none" stroke="#fff" stroke-width="7.5"/><polygon points="-7,7 17,22 -7,37" fill="#fff" stroke="#05663c" stroke-width="2.5" stroke-linejoin="miter"/></g>
<path d="M3220.6,2167.6 L3181.0,2135.6 A63,63 0 1 1 3260.2,2135.6 Z" fill="#ee7b0d" stroke="#ffffff" stroke-opacity="0.6" stroke-width="1.5" stroke-linejoin="round"/><g transform="translate(3220.1,2088) scale(1.0)"><circle r="33.7" fill="none" stroke="#fff" stroke-width="8.6"/><circle r="13.5" fill="none" stroke="#fff" stroke-width="7"/><line x1="0" y1="0" x2="22" y2="-22" stroke="#ee7b0d" stroke-width="13"/><polygon points="14.8,-14.8 12.4,-25.8 25.1,-38.5 28.3,-28.3 38.5,-25.1 25.8,-12.4" fill="#ee7b0d" stroke="#ee7b0d" stroke-width="5" stroke-linejoin="round"/><line x1="0" y1="0" x2="20" y2="-20" stroke="#fff" stroke-width="6.5" stroke-linecap="round"/><polygon points="14.8,-14.8 12.4,-25.8 25.1,-38.5 28.3,-28.3 38.5,-25.1 25.8,-12.4" fill="#fff"/></g>
<path d="M1968.7,1600 L1929.6,1569.1 A63,63 0 1 1 2007.8,1569.1 Z" fill="#55528a" stroke="#ffffff" stroke-opacity="0.6" stroke-width="1.5" stroke-linejoin="round"/><g transform="translate(1968.7,1516.7) scale(0.81)"><circle r="25" fill="none" stroke="#1e1b55" stroke-width="12.6"/><circle r="25" fill="none" stroke="#fff" stroke-width="10.6"/><circle r="43.4" fill="none" stroke="#1e1b55" stroke-width="12.2"/><circle r="43.4" fill="none" stroke="#fff" stroke-width="10.2"/><rect x="-52" y="-4.3" width="104" height="8.6" fill="#55528a"/><path d="M-50,-4.3 L-18.7,-4.3 M18.7,-4.3 L50,-4.3 M-50,4.3 L-18.7,4.3 M18.7,4.3 L50,4.3" stroke="#1e1b55" stroke-width="1.2"/><rect x="-2.7" y="-52" width="5.4" height="16" fill="#55528a"/><rect x="-2.7" y="36" width="5.4" height="16" fill="#55528a"/><line x1="-16" y1="-10" x2="-47" y2="-41" stroke="#55528a" stroke-width="20"/><circle r="12.1" fill="#fff" stroke="#1e1b55" stroke-width="1.2"/><line x1="-21" y1="-14" x2="-44" y2="-37" stroke="#1e1b55" stroke-width="12.5"/><line x1="-21" y1="-14" x2="-44" y2="-37" stroke="#fff" stroke-width="10"/><path d="M-55,-43 L-27,-43 L-55,-15 Z" fill="#fff" stroke="#1e1b55" stroke-width="1.2" stroke-linejoin="miter"/></g>
<path d="M2284.7,1740.7 L2244.7,1707.9 A63,63 0 1 1 2324.7,1707.9 Z" fill="#2e75b6" stroke="#ffffff" stroke-opacity="0.6" stroke-width="1.5" stroke-linejoin="round"/><g transform="translate(2286.7,1659.2) scale(1.0)"><path d="M-27.0,35.4 L-43.4,13.8 A20.5,20.5 0 1 1 -10.6,13.8 Z" fill="#fff" stroke="#0d47a1" stroke-width="1.6" stroke-linejoin="round"/><text x="-26.5" y="9.5" font-size="22" font-weight="bold" text-anchor="middle" fill="#2e75b6" stroke="#0d47a1" stroke-width="0.8">A</text><path d="M23.0,8.7 L6.6,-11.6 A21,21 0 1 1 39.4,-11.6 Z" fill="#fff" stroke="#0d47a1" stroke-width="1.6" stroke-linejoin="round"/><text x="23.5" y="-17" font-size="22" font-weight="bold" text-anchor="middle" fill="#2e75b6" stroke="#0d47a1" stroke-width="0.8">B</text><line x1="-28.5" y1="44.8" x2="25.4" y2="13.3" stroke="#0d47a1" stroke-width="10.5" stroke-linecap="round"/><line x1="-28.5" y1="44.8" x2="25.4" y2="13.3" stroke="#fff" stroke-width="8" stroke-linecap="round"/></g>
<path d="M3000,1737.2 L2960.1,1704.6 A63,63 0 1 1 3039.9,1704.6 Z" fill="#174a5b" stroke="#ffffff" stroke-opacity="0.6" stroke-width="1.5" stroke-linejoin="round"/><g transform="translate(3000,1656.5) scale(1.0)"><g transform="translate(0,-21) rotate(-17)"><rect x="-40.5" y="-17" width="81" height="34" rx="17" fill="#fff" stroke="#0b2730" stroke-width="1.2"/><path d="M1,-10.5 L23,-10.5 A10.5,10.5 0 0 1 23,10.5 L1,10.5 Z" fill="#174a5b" stroke="#0b2730" stroke-width="1"/></g><g transform="translate(0,23)"><rect x="-40.5" y="-17" width="81" height="34" rx="17" fill="#fff" stroke="#0b2730" stroke-width="1.2"/><path d="M0,-10.5 L-23.5,-10.5 A10.5,10.5 0 0 0 -23.5,10.5 L0,10.5 Z" fill="#174a5b" stroke="#0b2730" stroke-width="1"/></g></g>
<path d="M2516.6,2171.4 L2476.9,2139.1 A63,63 0 1 1 2556.3,2139.1 Z" fill="#5e0d18" stroke="#ffffff" stroke-opacity="0.6" stroke-width="1.5" stroke-linejoin="round"/><g transform="translate(2516.6,2090.2) scale(1.0)"><circle r="28" fill="#fff"/><line x1="23.8" y1="3.1" x2="41.6" y2="5.4" stroke="#fff" stroke-width="5"/><circle cx="41.6" cy="5.4" r="6" fill="#fff"/><line x1="19.1" y1="14.6" x2="33.3" y2="25.5" stroke="#fff" stroke-width="5"/><circle cx="33.3" cy="25.5" r="6" fill="#fff"/><line x1="9.2" y1="22.2" x2="16.1" y2="38.8" stroke="#fff" stroke-width="5"/><circle cx="16.1" cy="38.8" r="6" fill="#fff"/><line x1="-3.1" y1="23.8" x2="-5.4" y2="41.6" stroke="#fff" stroke-width="5"/><circle cx="-5.4" cy="41.6" r="6" fill="#fff"/><line x1="-14.6" y1="19.1" x2="-25.5" y2="33.3" stroke="#fff" stroke-width="5"/><circle cx="-25.5" cy="33.3" r="6" fill="#fff"/><line x1="-22.2" y1="9.2" x2="-38.8" y2="16.1" stroke="#fff" stroke-width="5"/><circle cx="-38.8" cy="16.1" r="6" fill="#fff"/><line x1="-23.8" y1="-3.1" x2="-41.6" y2="-5.4" stroke="#fff" stroke-width="5"/><circle cx="-41.6" cy="-5.4" r="6" fill="#fff"/><line x1="-19.1" y1="-14.6" x2="-33.3" y2="-25.5" stroke="#fff" stroke-width="5"/><circle cx="-33.3" cy="-25.5" r="6" fill="#fff"/><line x1="-9.2" y1="-22.2" x2="-16.1" y2="-38.8" stroke="#fff" stroke-width="5"/><circle cx="-16.1" cy="-38.8" r="6" fill="#fff"/><line x1="3.1" y1="-23.8" x2="5.4" y2="-41.6" stroke="#fff" stroke-width="5"/><circle cx="5.4" cy="-41.6" r="6" fill="#fff"/><line x1="14.6" y1="-19.1" x2="25.5" y2="-33.3" stroke="#fff" stroke-width="5"/><circle cx="25.5" cy="-33.3" r="6" fill="#fff"/><line x1="22.2" y1="-9.2" x2="38.8" y2="-16.1" stroke="#fff" stroke-width="5"/><circle cx="38.8" cy="-16.1" r="6" fill="#fff"/></g>
</g>
</svg></body></html>
